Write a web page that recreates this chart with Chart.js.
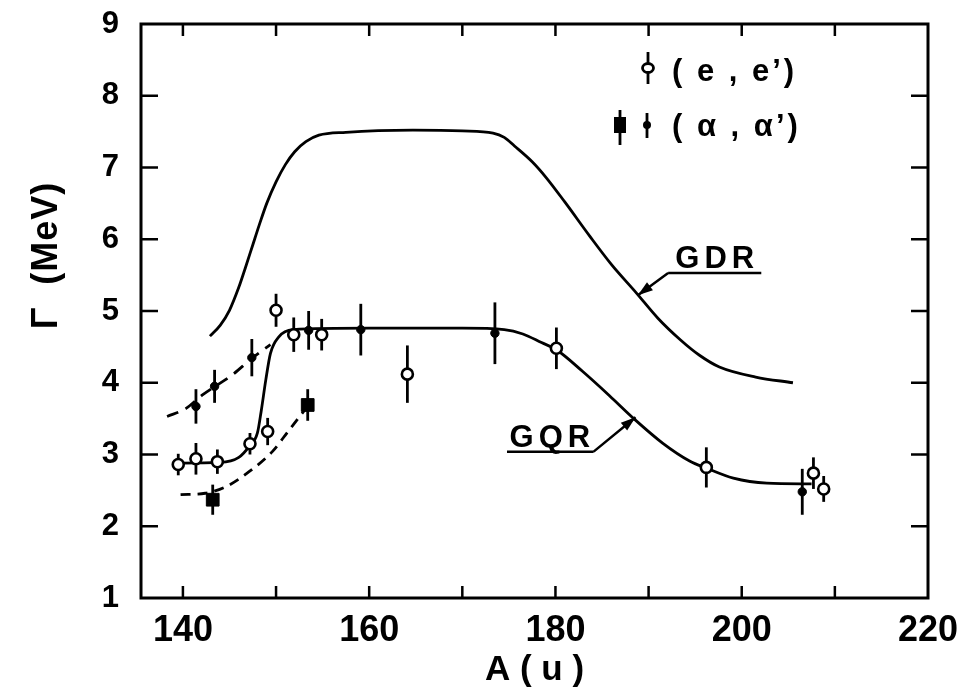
<!DOCTYPE html>
<html>
<head>
<meta charset="utf-8">
<script src="https://cdn.jsdelivr.net/npm/chart.js@4.4.1/dist/chart.umd.min.js"></script>
<style>
  html, body { margin: 0; padding: 0; background: #fff; }
  #wrap { width: 968px; height: 688px; }
</style>
</head>
<body>
<div id="wrap"><canvas id="chart" width="968" height="688"></canvas></div>
<script>
// (e,e') open circles
const eeA   = [139.5, 141.4, 143.7, 147.2, 149.1, 150.0, 151.9, 154.9, 164.1, 180.1, 196.2, 207.7, 208.8];
const eeG   = [2.86, 2.94, 2.90, 3.15, 3.32, 5.01, 4.67, 4.67, 4.12, 4.48, 2.82, 2.74, 2.52];
const eeErr = [0.15, 0.22, 0.17, 0.15, 0.19, 0.23, 0.24, 0.22, 0.40, 0.29, 0.28, 0.22, 0.18];

// (alpha,alpha') small filled dots
const aaA   = [141.4, 143.4, 147.4, 153.5, 159.1, 173.5, 206.5];
const aaG   = [3.67, 3.95, 4.35, 4.73, 4.74, 4.69, 2.48];
const aaErr = [0.24, 0.23, 0.26, 0.27, 0.36, 0.43, 0.32];

// (alpha,alpha') filled squares
const sqA   = [143.2, 153.4];
const sqG   = [2.37, 3.69];
const sqErr = [0.21, 0.22];

// GDR curve
const gdrA = [142.9, 144.0, 145.0, 146.0, 146.7, 147.5, 148.2, 149.0, 150.0, 151.0, 152.0, 153.2, 154.6, 157.5, 164.7, 170.0, 173.3, 174.5, 175.6, 177.5, 179.0, 181.0, 183.7, 186.0, 188.7, 191.0, 193.4, 195.5, 197.6, 201.5, 205.5];
const gdrG = [4.65, 4.80, 5.01, 5.33, 5.60, 5.92, 6.20, 6.50, 6.80, 7.04, 7.22, 7.36, 7.45, 7.49, 7.52, 7.51, 7.48, 7.42, 7.30, 7.08, 6.86, 6.52, 6.04, 5.65, 5.25, 4.90, 4.60, 4.38, 4.22, 4.08, 4.00];

// GQR curve
const gqrA = [139.1, 144.0, 146.0, 147.1, 148.0, 148.4, 148.9, 149.4, 150.3, 151.8, 160.0, 170.0, 174.5, 176.5, 178.5, 180.1, 182.9, 185.8, 188.5, 191.5, 194.4, 196.2, 199.1, 202.7, 207.5];
const gqrG = [2.88, 2.89, 2.96, 3.11, 3.30, 3.60, 4.04, 4.41, 4.64, 4.74, 4.76, 4.76, 4.74, 4.68, 4.56, 4.46, 4.16, 3.82, 3.49, 3.16, 2.91, 2.81, 2.67, 2.60, 2.59];

// dashed guides
const upDashA = [138.3, 140.3, 142.1, 145.3, 147.4, 149.4];
const upDashG = [3.53, 3.64, 3.83, 4.11, 4.34, 4.53];
const loDashA = [139.75, 142.4, 144.6, 147.1, 149.6, 151.4, 153.2];
const loDashG = [2.44, 2.46, 2.55, 2.76, 3.04, 3.34, 3.64];

// axes
const xTickLabels = [140, 160, 180, 200, 220];
const xMinorTicks = [140, 150, 160, 170, 180, 190, 200, 210];
const yTickLabels = [1, 2, 3, 4, 5, 6, 7, 8, 9];

// curve labels with leader arrows (data coordinates)
const curveNotes = [
    { text: 'GDR', at: [197.1, 5.60], under: [192.1, 202.1, 5.53], corner: [192.1, 5.53], tip: [188.85, 5.22] },
    { text: 'GQR', at: [179.4, 3.11], under: [174.8, 184.1, 3.04], corner: [184.1, 3.04], tip: [188.6, 3.52] }
];

const FONT = '"Liberation Sans", Arial, sans-serif';
const toXY = (xs, ys) => xs.map((x, i) => ({ x: x, y: ys[i] }));

const errorSets = [
    { xs: eeA, ys: eeG, errs: eeErr },
    { xs: aaA, ys: aaG, errs: aaErr },
    { xs: sqA, ys: sqG, errs: sqErr }
];

function arrowHead(ctx, x0, y0, x1, y1) {
    const ang = Math.atan2(y1 - y0, x1 - x0);
    const len = 15, half = 5;
    const bx = x1 - len * Math.cos(ang), by = y1 - len * Math.sin(ang);
    ctx.beginPath();
    ctx.moveTo(x1, y1);
    ctx.lineTo(bx + half * Math.sin(ang), by - half * Math.cos(ang));
    ctx.lineTo(bx - half * Math.sin(ang), by + half * Math.cos(ang));
    ctx.closePath();
    ctx.fill();
}

function spacedText(ctx, text, x, y, spacing, align) {
    ctx.letterSpacing = spacing + 'px';
    const w = ctx.measureText(text).width - spacing;
    let startX = x;
    if (align === 'center') startX = x - w / 2;
    ctx.textAlign = 'left';
    ctx.fillText(text, startX, y);
    ctx.letterSpacing = '0px';
}

const decorPlugin = {
    id: 'decor',
    beforeDatasetsDraw(chart) {
        const ctx = chart.ctx;
        const xs = chart.scales.x, ys = chart.scales.y;
        ctx.save();
        ctx.strokeStyle = '#000';
        ctx.lineWidth = 2.8;
        errorSets.forEach(set => {
            set.xs.forEach((a, i) => {
                const px = xs.getPixelForValue(a);
                ctx.beginPath();
                ctx.moveTo(px, ys.getPixelForValue(set.ys[i] - set.errs[i]));
                ctx.lineTo(px, ys.getPixelForValue(set.ys[i] + set.errs[i]));
                ctx.stroke();
            });
        });
        ctx.restore();
    },
    afterDraw(chart) {
        const ctx = chart.ctx;
        const area = chart.chartArea;
        const xs = chart.scales.x, ys = chart.scales.y;
        ctx.save();
        ctx.strokeStyle = '#000';
        ctx.fillStyle = '#000';

        // frame
        ctx.lineWidth = 3;
        ctx.strokeRect(area.left, area.top, area.right - area.left, area.bottom - area.top);

        // inward ticks
        ctx.lineWidth = 2.5;
        xMinorTicks.forEach(v => {
            const px = xs.getPixelForValue(v);
            ctx.beginPath();
            ctx.moveTo(px, area.bottom); ctx.lineTo(px, area.bottom - 12);
            ctx.moveTo(px, area.top); ctx.lineTo(px, area.top + 12);
            ctx.stroke();
        });
        yTickLabels.slice(1, -1).forEach(v => {
            const py = ys.getPixelForValue(v);
            ctx.beginPath();
            ctx.moveTo(area.left, py); ctx.lineTo(area.left + 17, py);
            ctx.moveTo(area.right, py); ctx.lineTo(area.right - 17, py);
            ctx.stroke();
        });

        // curve labels
        curveNotes.forEach(n => {
            ctx.font = 'bold 31px ' + FONT;
            ctx.textBaseline = 'alphabetic';
            spacedText(ctx, n.text, xs.getPixelForValue(n.at[0]), ys.getPixelForValue(n.at[1]), 5, 'center');
            const uy = ys.getPixelForValue(n.under[2]);
            const cx = xs.getPixelForValue(n.corner[0]), cy = ys.getPixelForValue(n.corner[1]);
            const tx = xs.getPixelForValue(n.tip[0]), ty = ys.getPixelForValue(n.tip[1]);
            ctx.lineWidth = 2.5;
            ctx.beginPath();
            ctx.moveTo(xs.getPixelForValue(n.under[0]), uy);
            ctx.lineTo(xs.getPixelForValue(n.under[1]), uy);
            ctx.moveTo(cx, cy);
            ctx.lineTo(tx, ty);
            ctx.stroke();
            arrowHead(ctx, cx, cy, tx, ty);
        });

        // legend
        const lx = area.left, ly = area.top;
        ctx.lineWidth = 2.8;
        // row 1: open circle
        ctx.beginPath();
        ctx.moveTo(lx + 507, ly + 28); ctx.lineTo(lx + 507, ly + 60); ctx.stroke();
        ctx.beginPath();
        ctx.ellipse(lx + 507, ly + 44, 5.5, 4.5, 0, 0, Math.PI * 2);
        ctx.fillStyle = '#fff'; ctx.fill(); ctx.stroke();
        ctx.fillStyle = '#000';
        // row 2: square and dot
        ctx.beginPath();
        ctx.moveTo(lx + 479, ly + 86); ctx.lineTo(lx + 479, ly + 121);
        ctx.moveTo(lx + 506, ly + 89); ctx.lineTo(lx + 506, ly + 114);
        ctx.stroke();
        ctx.fillRect(lx + 473, ly + 93, 12, 16);
        ctx.beginPath();
        ctx.arc(lx + 506, ly + 101, 4, 0, Math.PI * 2);
        ctx.fill();
        ctx.font = 'bold 31px ' + FONT;
        ctx.textBaseline = 'middle';
        spacedText(ctx, '( e , e\u2019)', lx + 531, ly + 48, 3, 'left');
        spacedText(ctx, '( \u03b1 , \u03b1\u2019)', lx + 531, ly + 103, 3, 'left');

        // y axis title
        ctx.translate(47, 256);
        ctx.rotate(-Math.PI / 2);
        ctx.font = 'bold 36px ' + FONT;
        ctx.textBaseline = 'middle';
        spacedText(ctx, '\u0393  (MeV)', 0, 0, 1, 'center');
        ctx.restore();
    }
};

const curveStyle = {
    pointRadius: 0,
    borderColor: '#000',
    borderWidth: 2.8,
    fill: false,
    cubicInterpolationMode: 'monotone',
    order: 3
};

new Chart(document.getElementById('chart'), {
    type: 'line',
    data: {
        datasets: [
            Object.assign({ label: 'GDR', data: toXY(gdrA, gdrG) }, curveStyle),
            Object.assign({ label: 'GQR', data: toXY(gqrA, gqrG) }, curveStyle),
            Object.assign({ label: 'upper dashed', data: toXY(upDashA, upDashG), borderDash: [12, 8] }, curveStyle),
            Object.assign({ label: 'lower dashed', data: toXY(loDashA, loDashG), borderDash: [10, 7] }, curveStyle),
            {
                label: "(e,e')",
                data: toXY(eeA, eeG),
                showLine: false,
                pointStyle: 'circle',
                pointRadius: 5.5,
                pointBackgroundColor: '#fff',
                pointBorderColor: '#000',
                pointBorderWidth: 2.6,
                order: 0
            },
            {
                label: "(\u03b1,\u03b1')",
                data: toXY(aaA, aaG),
                showLine: false,
                pointStyle: 'circle',
                pointRadius: 4.2,
                pointBackgroundColor: '#000',
                pointBorderColor: '#000',
                pointBorderWidth: 1,
                order: 1
            },
            {
                label: "(\u03b1,\u03b1') squares",
                data: toXY(sqA, sqG),
                showLine: false,
                pointStyle: 'rect',
                pointRadius: 9,
                pointBackgroundColor: '#000',
                pointBorderColor: '#000',
                pointBorderWidth: 1,
                order: 1
            }
        ]
    },
    options: {
        responsive: false,
        animation: false,
        devicePixelRatio: 1,
        layout: { padding: { left: 0, top: 24, right: 40, bottom: 0 } },
        plugins: {
            legend: { display: false },
            tooltip: { enabled: false }
        },
        scales: {
            x: {
                type: 'linear',
                min: 135.5,
                max: 220,
                afterBuildTicks: scale => { scale.ticks = xTickLabels.map(v => ({ value: v })); },
                afterFit: scale => {
                    scale.height = 90;
                    scale.paddingLeft = 0;
                    scale.paddingRight = 0;
                },
                grid: { display: false },
                border: { display: false },
                ticks: {
                    color: '#000',
                    padding: 3,
                    maxRotation: 0,
                    font: { family: FONT, size: 36, weight: 'bold' }
                },
                title: {
                    display: true,
                    text: 'A ( u )',
                    color: '#000',
                    padding: { top: 0, bottom: 0 },
                    font: { family: FONT, size: 35, weight: 'bold', lineHeight: 1 }
                }
            },
            y: {
                type: 'linear',
                min: 1,
                max: 9,
                afterBuildTicks: scale => { scale.ticks = yTickLabels.map(v => ({ value: v })); },
                afterFit: scale => {
                    scale.width = 141;
                    scale.paddingTop = 0;
                    scale.paddingBottom = 0;
                },
                grid: { display: false },
                border: { display: false },
                ticks: {
                    color: '#000',
                    padding: 14,
                    font: { family: FONT, size: 31, weight: 'bold' }
                }
            }
        }
    },
    plugins: [decorPlugin]
});
</script>
</body>
</html>
